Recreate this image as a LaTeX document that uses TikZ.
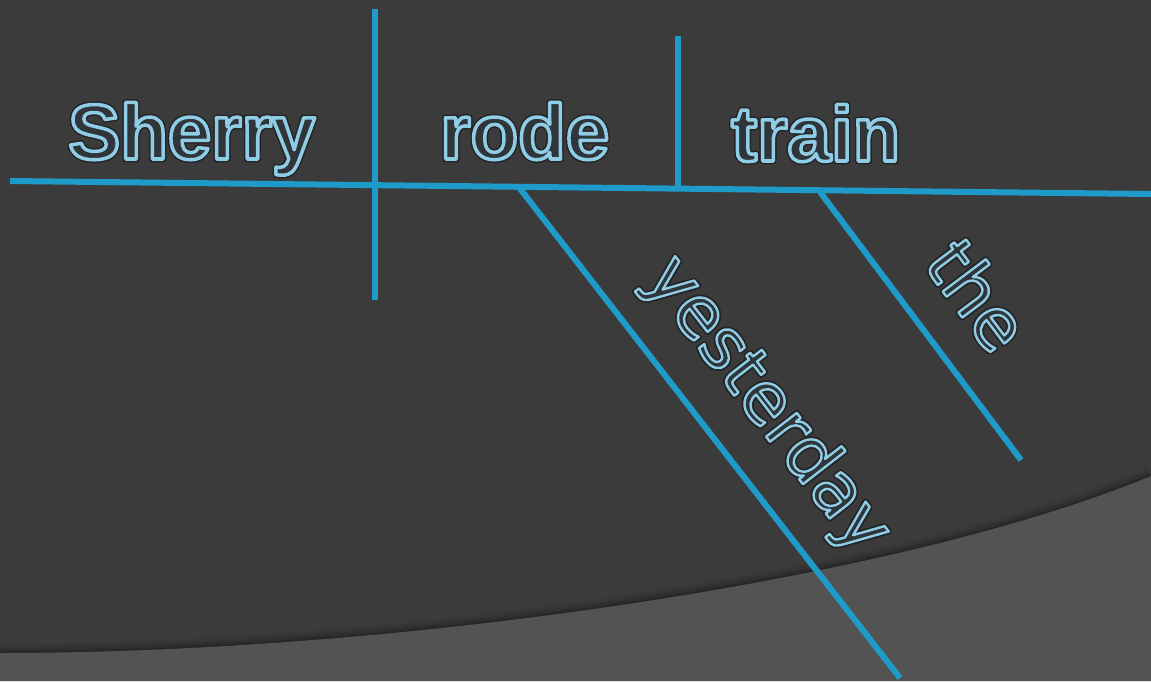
\documentclass[tikz,border=0pt]{standalone}
\usepackage{fontspec}
\setmainfont{Liberation Sans}
\newfontfamily\slantfont{DejaVu Sans}
\definecolor{darkbg}{RGB}{59,59,59}
\definecolor{lightbg}{RGB}{83,83,83}
\definecolor{linec}{RGB}{30,155,200}
\definecolor{glyphfill}{RGB}{47,53,57}
\newcommand\otext[3]{%
  \special{pdf:literal 1 Tr 1 j #1 w 0.14 0.14 0.15 RG}\rlap{#3}%
  \special{pdf:literal 2 Tr 1 j #2 w 0.56 0.80 0.90 RG}#3%
  \special{pdf:literal 0 Tr}}
\tikzset{
  diag/.style={draw=linec, line width=6pt, line cap=butt},
  topword/.style={inner sep=0pt, anchor=base west, text=glyphfill,
    font=\fontsize{78}{78}\selectfont\bfseries},
  slantword/.style={inner sep=0pt, anchor=base west, text=glyphfill,
    font=\fontsize{71}{71}\selectfont\slantfont}
}
\begin{document}
\begin{tikzpicture}[x=1pt,y=-1pt]
\useasboundingbox (0,0) rectangle (1151,681);
\fill[darkbg] (0,0) rectangle (1151,681);
% shadow along the curve
\foreach \w/\o in {18/0.06,12/0.08,7/0.1,3/0.12}{
  \draw[black, opacity=\o, line width=\w pt]
    (0,653) .. controls (400,653) and (900,580) .. (1151,476);
}
\fill[lightbg] (0,653) .. controls (400,653) and (900,580) .. (1151,476)
  -- (1151,681) -- (0,681) -- cycle;
% coordinates
\coordinate (mainL) at (10,181);
\coordinate (mainR) at (1151,194);
\coordinate (v1t) at (375,9);
\coordinate (v1b) at (375,300);
\coordinate (v2t) at (678,36);
\coordinate (v2b) at (678,187);
\coordinate (y1) at (518,186);
\coordinate (y2) at (900,678);
\coordinate (t1) at (820,192);
\coordinate (t2) at (1021,460);
% lines
\draw[diag] (mainL) -- (mainR);
\draw[diag] (v1t) -- (v1b);
\draw[diag] (v2t) -- (v2b);
\draw[diag] (y1) -- (y2);
\draw[diag] (t1) -- (t2);
% words
\node[topword] (sherry) at (68,159) {\otext{6.5}{3.5}{Sherry}};
\node[topword] (rode) at (440,159) {\otext{6.5}{3.5}{rode}};
\node[topword] (train) at (731,161) {\otext{6.5}{3.5}{train}};
\node[slantword, rotate=-52.2] (yesterday) at (643,278) {\otext{6}{2.4}{yesterday}};
\node[slantword, rotate=-53.1] (the) at (922,264) {\otext{6}{2.4}{the}};
\end{tikzpicture}
\end{document}
